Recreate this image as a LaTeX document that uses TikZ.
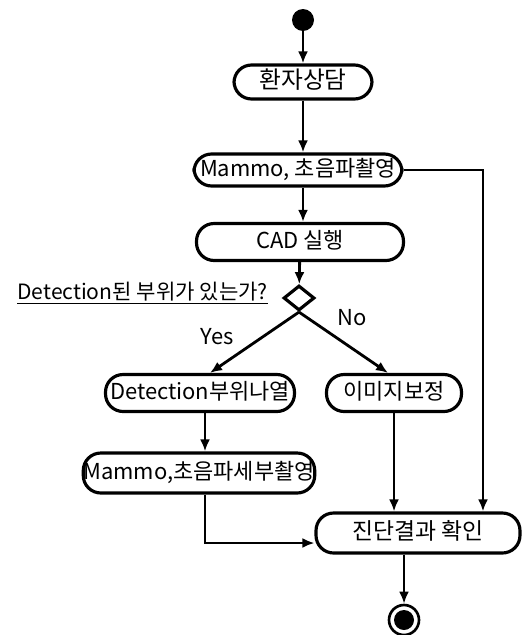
\documentclass[tikz,border=0pt]{standalone}
\usepackage{fontspec}
\setmainfont{Noto Sans CJK KR}
\usetikzlibrary{arrows.meta,positioning,shapes.geometric}

\begin{document}
\begin{tikzpicture}[
  x=0.02cm, y=-0.02cm,
  >={Latex[length=2.4mm,width=2mm]},
  act/.style={draw, line width=1.8pt, rounded corners=10pt,
              inner xsep=0pt, inner ysep=0pt, text height=9.5pt, text depth=2.5pt,
              align=center, font=\fontsize{12.5}{15}\selectfont},
  arr/.style={->, line width=1.6pt},
  lbl/.style={font=\fontsize{12.5}{15}\selectfont},
]
\useasboundingbox (0,0) rectangle (527,635);

% Start
\node[circle, fill=black, minimum size=0.44cm, inner sep=0pt] (start) at (303,20) {};

% main column
\node[act, minimum width=2.76cm, minimum height=0.68cm, font=\fontsize{13.5}{15}\selectfont] (consult) at (303,82) {환자상담};
\node[act, minimum width=4.16cm, minimum height=0.64cm] (mammo) at (298,170) {Mammo, 초음파촬영};
\node[act, minimum width=4.14cm, minimum height=0.74cm] (cad) at (300,242) {CAD 실행};

% Decision
\node[diamond, draw, line width=1.8pt, minimum width=0.62cm, minimum height=0.50cm, inner sep=0pt] (q) at (299,298) {};
\node[lbl, font=\fontsize{12}{14}\selectfont, anchor=east] (qtext) at (274,293) {\underline{Detection된 부위가 있는가?}};

% branches
\node[act, minimum width=3.78cm, minimum height=0.74cm] (detlist) at (200,393) {Detection부위나열};
\node[act, minimum width=2.70cm, minimum height=0.74cm] (imgfix) at (394,393) {이미지보정};
\node[act, minimum width=4.58cm, minimum height=0.80cm] (mammodet) at (199,473) {Mammo,초음파세부촬영};

% Result + end
\node[act, minimum width=4.08cm, minimum height=0.80cm, font=\fontsize{13}{15}\selectfont] (result) at (418,533) {진단결과 확인};
\node[circle, draw, line width=1.5pt, minimum size=0.60cm, inner sep=0pt,
      path picture={\fill (path picture bounding box.center) circle (0.20cm);}] (stop) at (404,620) {};

% flow
\draw[arr] (start) -- (consult);
\draw[arr] (consult) -- (consult |- mammo.north);
\draw[arr] (consult |- mammo.south) -- (consult |- cad.north);
\draw[arr] (cad) -- (q);
\draw[arr] (q.south) -- node[lbl, left, pos=0.4, xshift=-0.45cm] (yes) {Yes} ([xshift=0.2cm]detlist.north);
\draw[arr] (q.south) -- node[lbl, above right, pos=0.35] (no) {No} ([xshift=-0.12cm]imgfix.north);
\draw[arr] ([xshift=0.1cm]detlist.south) -- ([xshift=0.1cm]detlist.south |- mammodet.north);

% into result
\draw[arr] ([xshift=0.12cm]mammodet.south) |- ([yshift=-0.2cm]result.west);
\draw[arr] (imgfix) -- (imgfix |- result.north);
\draw[arr] (mammo.east) -| ([xshift=1.3cm]result.north);
\draw[arr] (stop |- result.south) -- (stop);

\end{tikzpicture}
\end{document}
